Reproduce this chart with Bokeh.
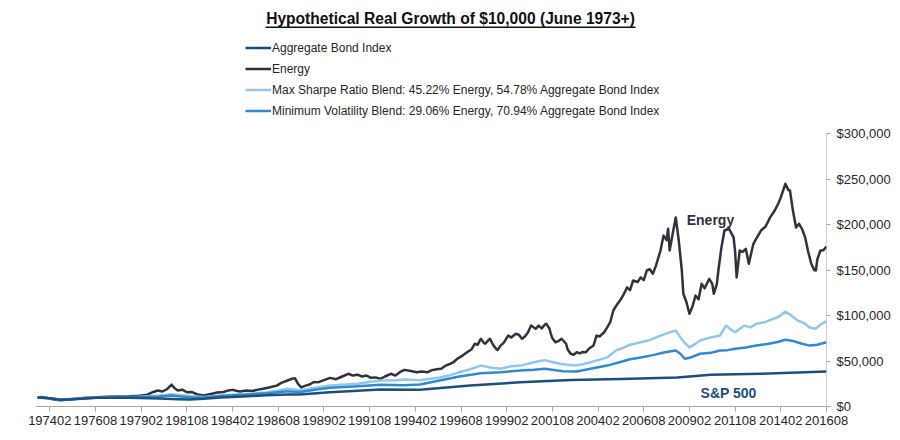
from bokeh.plotting import figure
from bokeh.models import (Range1d, FixedTicker, NumeralTickFormatter, Legend, LegendItem,
                          Label, BoxAnnotation)
from bokeh.embed import file_html
from bokeh.resources import INLINE

# ---------------- data ----------------
# (months since June 1973, real value in $ thousands)
title_text = "Hypothetical Real Growth of $10,000 (June 1973+)"
tick_labels = ["197402", "197608", "197902", "198108", "198402", "198608", "198902",
               "199108", "199402", "199608", "199902", "200108", "200402", "200608",
               "200902", "201108", "201402", "201608"]
y_ticks = [0, 50000, 100000, 150000, 200000, 250000, 300000]

series_names = ["Aggregate Bond Index", "Energy",
                "Max Sharpe Ratio Blend: 45.22% Energy, 54.78% Aggregate Bond Index",
                "Minimum Volatility Blend: 29.06% Energy, 70.94% Aggregate Bond Index"]

energy_points = [
    (0, 10), (3, 10.5), (6, 9.5), (10, 8), (15, 7), (20, 7.8), (26, 8.8), (32, 9.6), (39, 10.2),
    (46, 10.6), (53, 11), (60, 11.2), (67, 11.8), (72, 13), (76, 16), (79, 17.6), (82, 16.5),
    (85, 19), (88, 24), (90, 20), (92, 17.6), (95, 18.5), (98, 15.7), (101, 16), (105, 13.2),
    (109, 12.1), (113, 13.5), (118, 15.4), (122, 16), (125, 17.5), (128, 18.3), (131, 17),
    (133, 16.5), (137, 17.5), (141, 17), (144, 18.3), (148, 19.5), (152, 21), (157, 23), (160, 26),
    (164, 28.6), (167, 30.5), (169, 31), (171, 25), (173, 21), (176, 23), (179, 24.5), (181, 26.7),
    (185, 27), (188, 29), (192, 31.5), (196, 30), (200, 33), (204, 36), (207, 34), (210, 35),
    (213, 33), (216, 34), (219, 31.5), (222, 32), (225, 30.4), (228, 33), (232, 36), (235, 34),
    (238, 38), (241, 40.3), (245, 39), (249, 37.7), (252, 38.5), (256, 37.7), (259, 40), (262, 41),
    (265, 41.5), (268, 45), (271, 47), (273, 48.7), (276, 53), (279, 56), (282, 59.7), (285, 63),
    (287, 69), (289, 68), (291, 74.5), (293, 70), (294, 69), (296, 73), (297, 74.5), (299, 68),
    (301, 63.5), (302, 62), (304, 67), (306, 70), (309, 78), (311, 76), (314, 80), (316, 79),
    (318, 74.5), (320, 77), (322, 81.7), (324, 89), (327, 85.5), (329, 89), (331, 86), (333, 90),
    (334, 91), (336, 86), (337, 80), (338, 75), (340, 70.7), (342, 72), (344, 74.5), (347, 69),
    (348, 63), (350, 58), (352, 57), (354, 59.7), (356, 58.5), (358, 60), (360, 59.7), (362, 63.5),
    (365, 67), (367, 78), (369, 77), (372, 81.7), (374, 87), (376, 92.7), (378, 105.6), (380, 111),
    (383, 118), (385, 124), (387, 131), (389, 128), (391, 138.6), (394, 137), (396, 142), (398, 139),
    (400, 149.6), (402, 151), (404, 146), (406, 155), (409, 171.6), (411, 188), (413, 183),
    (414, 195.5), (415, 171.6), (417, 190), (419, 208), (421, 182.6), (423, 149.6), (424, 124),
    (426, 115), (428, 102), (430, 110), (432, 122), (434, 118), (436, 135), (438, 130), (441, 140.5),
    (443, 135), (444, 124), (446, 135), (447, 149.6), (449, 175), (451, 193.6), (454, 195.5),
    (457, 186), (458, 170), (459, 142), (461, 171.6), (463, 170), (465, 173.5), (467, 157), (469, 172),
    (470, 179), (472, 185), (475, 193.6), (478, 198), (481, 208), (484, 215.6), (486, 222), (488, 230),
    (490, 240), (491, 245), (493, 238), (494, 237.6), (496, 215), (498, 197), (500, 201), (502, 195),
    (504, 186), (506, 170), (508, 157), (510, 150), (511, 149.6), (512, 162), (514, 171.6), (516, 172),
    (518, 176)]

sharpe_points = [
    (0, 10), (8, 9), (15, 7.5), (24, 8.5), (39, 10), (55, 10.5), (67, 10.8), (74, 11.5), (80, 12),
    (88, 13.5), (94, 12.5), (100, 11.5), (109, 10.5), (115, 11.2), (120, 12), (128, 13), (135, 13.5),
    (143, 14.5), (150, 15.5), (158, 17.5), (164, 19.5), (168, 19), (172, 17.5), (180, 20), (192, 23),
    (200, 24), (210, 25), (218, 27), (225, 28.6), (235, 29), (241, 29.8), (251, 29), (258, 30.5),
    (264, 32), (270, 34), (277, 37.7), (284, 41), (291, 45), (297, 43), (304, 41.5), (310, 44),
    (317, 45), (322, 47), (328, 49.5), (333, 51), (338, 49), (343, 47), (348, 46), (353, 45),
    (358, 46.5), (363, 48.7), (368, 51), (374, 54), (380, 62), (383, 63.5), (389, 68), (396, 70.7),
    (402, 73), (409, 78), (414, 81), (419, 83.6), (422, 76), (425, 70), (428, 65), (431, 68),
    (435, 72.6), (442, 76), (448, 78), (452, 89), (455, 85), (458, 81.7), (464, 89), (468, 87),
    (472, 91), (478, 93), (483, 96.5), (487, 99), (491, 104.5), (495, 100), (499, 94.6), (503, 92),
    (507, 87), (511, 85.5), (514, 90), (518, 93.9)]

minvol_points = [
    (0, 10), (8, 9), (15, 7.3), (24, 8.3), (39, 10), (55, 10.3), (67, 10.5), (80, 11), (88, 12),
    (94, 11), (100, 10.3), (109, 9.8), (120, 11.5), (128, 12.3), (135, 13), (143, 13.8), (150, 14.5),
    (158, 15.8), (164, 16.8), (172, 16), (182, 18.5), (192, 20.5), (208, 22), (225, 23.8), (240, 23.5),
    (251, 24.2), (264, 28.6), (277, 33), (291, 36.6), (304, 37.7), (317, 39.6), (326, 40.5),
    (333, 41.5), (340, 40), (345, 38.8), (354, 38.5), (363, 41.5), (374, 45), (382, 48.7), (389, 52),
    (396, 54), (404, 56.5), (412, 59.7), (419, 61.6), (422, 58), (425, 52.5), (429, 54), (435, 58),
    (442, 59), (448, 61.6), (453, 62), (458, 63.5), (465, 65), (472, 67), (480, 69), (486, 71),
    (491, 73.4), (496, 72), (502, 69), (507, 67), (512, 68), (518, 70.7)]

bond_points = [
    (0, 10), (8, 9), (15, 7.5), (24, 8), (39, 9.5), (60, 9.5), (80, 8.8), (92, 8), (100, 7.7),
    (109, 8.5), (120, 10), (135, 11), (150, 12.3), (164, 13.3), (172, 13.2), (192, 15.7), (225, 18.7),
    (251, 18.4), (284, 23), (317, 26.7), (350, 29.2), (383, 30.2), (420, 32), (442, 35), (475, 36),
    (518, 38.5)]

# ---------------- helpers ----------------
def month_index(code):
    y, m = divmod(int(code), 100)
    return (y - 1973) * 12 + (m - 6)

def xy(points):
    xs = [pt[0] for pt in points]
    ys = [pt[1] * 1000 for pt in points]
    return xs, ys

# ---------------- styling ----------------
C_BOND = "#1d4f7c"
C_ENERGY = "#2e333d"
C_SHARPE = "#90c7ef"
C_MINVOL = "#2f8ad0"
TXT = "#262626"
FONT = "Liberation Sans"

FRAME_H = 406
Y_END = 300000 * FRAME_H / 272.7

p = figure(width=900, height=440, output_backend="svg", toolbar_location=None, title=None,
           x_range=Range1d(-1.4, 518), y_range=Range1d(0, Y_END),
           y_axis_location="right",
           min_border_left=35, min_border_right=74, min_border_top=0, min_border_bottom=34)
p.background_fill_color = "white"
p.border_fill_color = "white"
p.outline_line_color = None
p.xgrid.visible = False
p.ygrid.visible = False

# axes
xa = p.xaxis[0]
xa.ticker = FixedTicker(ticks=[month_index(t) for t in tick_labels])
xa.major_label_overrides = {month_index(t): t for t in tick_labels}
xa.minor_tick_line_color = None
xa.major_tick_out = 5
xa.major_tick_in = 0
xa.major_label_standoff = 4
xa.axis_line_color = "#a6a6a6"
xa.major_tick_line_color = "#a6a6a6"
xa.major_label_text_font = FONT
xa.major_label_text_font_size = "13px"
xa.major_label_text_color = TXT

ya = p.yaxis[0]
ya.ticker = FixedTicker(ticks=y_ticks)
ya.formatter = NumeralTickFormatter(format="$0,0")
ya.minor_tick_line_color = None
ya.major_tick_out = 4
ya.major_tick_in = 0
ya.major_label_standoff = 6
ya.axis_line_color = None
ya.major_tick_line_color = "#a6a6a6"
ya.major_label_text_font = FONT
ya.major_label_text_font_size = "13px"
ya.major_label_text_color = TXT

# y-axis line only up to the top tick
p.segment(x0=[518], y0=[y_ticks[0]], x1=[518], y1=[y_ticks[-1]], line_color="#a6a6a6", line_width=1)

# series
ex, ey = xy(energy_points)
sx, sy = xy(sharpe_points)
mx, my = xy(minvol_points)
bx, by = xy(bond_points)
r_energy = p.line(ex, ey, line_color=C_ENERGY, line_width=2.5, line_join="round")
r_sharpe = p.line(sx, sy, line_color=C_SHARPE, line_width=2.5, line_join="round")
r_minvol = p.line(mx, my, line_color=C_MINVOL, line_width=2.5, line_join="round")
r_bond = p.line(bx, by, line_color=C_BOND, line_width=2.5, line_join="round")

legend = Legend(items=[LegendItem(label=series_names[0], renderers=[r_bond]),
                       LegendItem(label=series_names[1], renderers=[r_energy]),
                       LegendItem(label=series_names[2], renderers=[r_sharpe]),
                       LegendItem(label=series_names[3], renderers=[r_minvol])],
                location=(210, 285), orientation="vertical",
                glyph_width=26, glyph_height=21, label_height=21, label_standoff=1,
                spacing=0, padding=0, margin=0,
                label_text_font=FONT, label_text_font_size="12px", label_text_color=TXT,
                background_fill_alpha=0, border_line_color=None)
p.add_layout(legend)

# title with underline (inside the frame, screen units)
p.add_layout(Label(x=415, y=388, x_units="screen", y_units="screen", text=title_text,
                   text_align="center", text_baseline="middle", text_font=FONT,
                   text_font_size="15.6px", text_font_style="bold", text_color="#111111"))
p.add_layout(BoxAnnotation(left=230, right=600, top=380, bottom=378.5,
                           left_units="screen", right_units="screen",
                           top_units="screen", bottom_units="screen",
                           fill_color="#111111", fill_alpha=1, line_color=None))

# series annotations
p.add_layout(Label(x=441.8, y=205700, text="Energy", text_align="center", text_baseline="middle",
                   text_font=FONT, text_font_size="14px", text_font_style="bold",
                   text_color=C_ENERGY))
p.add_layout(Label(x=453.7, y=15400, text="S&P 500", text_align="center", text_baseline="middle",
                   text_font=FONT, text_font_size="14px", text_font_style="bold",
                   text_color=C_BOND))

open("out.html", "w").write(file_html(p, INLINE))
